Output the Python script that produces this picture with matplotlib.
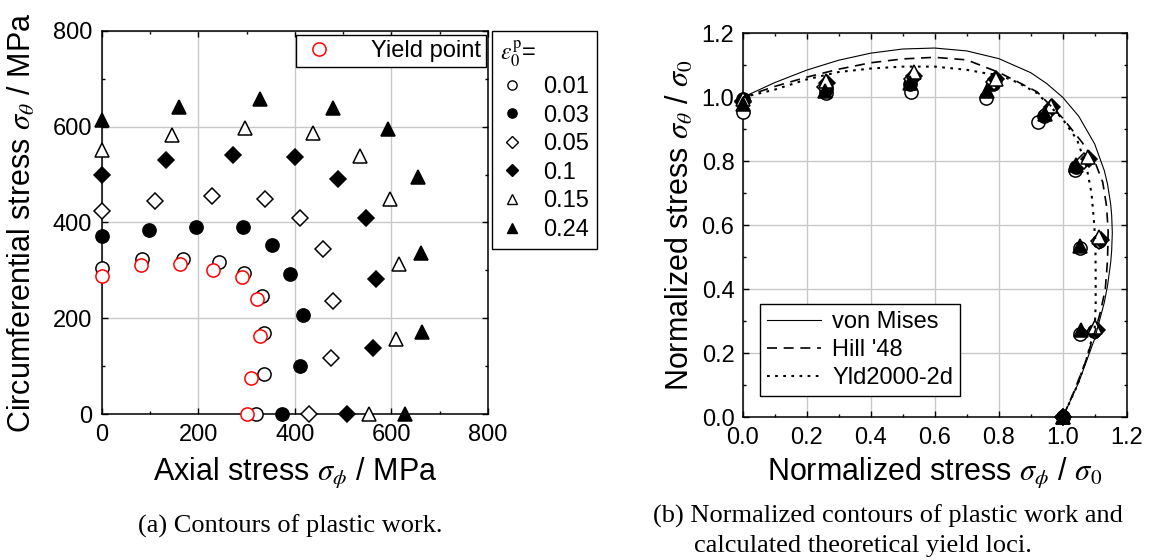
import matplotlib
matplotlib.use("Agg")
import matplotlib.pyplot as plt
from matplotlib.lines import Line2D
import numpy as np

plt.rcParams['font.family'] = ['Liberation Sans', 'DejaVu Sans']
plt.rcParams['mathtext.fontset'] = 'stix'

# ---------------- data (left: contours of plastic work, MPa) ----------------
levels = ['0.01', '0.03', '0.05', '0.1', '0.15', '0.24']

s001_x = [0, 83, 168, 243, 294, 331, 336, 336, 319]
s001_y = [304, 323, 324, 318, 294, 247, 169, 83, 0]
s003_x = [0, 97, 195, 292, 352, 390, 416, 410, 374]
s003_y = [372, 384, 390, 390, 352, 293, 206, 101, 0]
s005_x = [0, 110, 228, 338, 410, 459, 479, 474, 430]
s005_y = [425, 444, 455, 450, 410, 345, 237, 116, 0]
s010_x = [0, 133, 271, 401, 490, 548, 567, 561, 507]
s010_y = [500, 530, 541, 536, 491, 410, 281, 138, 0]
s015_x = [0, 145, 297, 438, 534, 598, 616, 610, 554]
s015_y = [551, 582, 598, 586, 539, 450, 313, 156, 0]
s024_x = [0, 161, 328, 479, 593, 655, 661, 664, 628]
s024_y = [614, 641, 657, 640, 596, 496, 336, 171, 0]

yield_x = [0, 81, 162, 230, 290, 321, 327, 309, 300]
yield_y = [288, 311, 313, 300, 287, 240, 163, 76, 0]

# ---------------- theoretical yield loci (normalized) ----------------
vm_x = [0, 0.1, 0.2, 0.3, 0.4, 0.5, 0.6, 0.7, 0.8, 0.9, 0.95, 1.0, 1.05, 1.1, 1.13,
        1.14, 1.15, 1.153, 1.155, 1.153, 1.15, 1.14, 1.13, 1.1, 1.05, 1.0]
vm_y = [1.0, 1.046, 1.085, 1.116, 1.138, 1.151, 1.154, 1.145, 1.121, 1.077, 1.043, 1.0,
        0.941, 0.854, 0.771, 0.729, 0.665, 0.631, 0.577, 0.522, 0.485, 0.411, 0.359,
        0.246, 0.109, 0.0]

hill_x = [0, 0.1, 0.2, 0.3, 0.4, 0.5, 0.6, 0.7, 0.8, 0.86, 0.92, 1.0, 1.06, 1.10,
          1.125, 1.137, 1.142, 1.14, 1.133, 1.118, 1.10, 1.07, 1.035, 1.0]
hill_y = [1.0, 1.034, 1.063, 1.088, 1.108, 1.12, 1.125, 1.117, 1.078, 1.048, 1.017,
          0.935, 0.86, 0.8, 0.735, 0.66, 0.58, 0.49, 0.40, 0.33, 0.265, 0.17, 0.08, 0.0]

yld_x = [0, 0.1, 0.2, 0.3, 0.4, 0.5, 0.6, 0.7, 0.76, 0.8, 0.86, 0.92, 1.0, 1.045,
         1.075, 1.09, 1.097, 1.102, 1.103, 1.103, 1.10, 1.077, 1.044, 1.0]
yld_y = [1.0, 1.024, 1.056, 1.079, 1.09, 1.096, 1.096, 1.086, 1.075, 1.07, 1.046,
         1.013, 0.932, 0.867, 0.78, 0.70, 0.62, 0.55, 0.45, 0.35, 0.28, 0.19, 0.096, 0.0]

series = [(s001_x, s001_y), (s003_x, s003_y), (s005_x, s005_y),
          (s010_x, s010_y), (s015_x, s015_y), (s024_x, s024_y)]
styles = [('o', 'white'), ('o', 'black'), ('D', 'white'),
          ('D', 'black'), ('^', 'white'), ('^', 'black')]
msizes = [9.5, 9.5, 8.3, 8.3, 10, 10]

fig = plt.figure(figsize=(11.51, 5.6), dpi=100)
ax1 = fig.add_axes([0.0884, 0.2607, 0.3356, 0.684])
ax2 = fig.add_axes([0.6453, 0.2548, 0.3336, 0.6857])

TICK_FS = 17
LABEL_FS = 22
LEG_FS = 17


def style_axes(ax):
    for sp in ax.spines.values():
        sp.set_linewidth(1.1)
    ax.tick_params(which='both', direction='in', top=True, right=True,
                   labelsize=TICK_FS, width=1.0)
    ax.tick_params(which='major', length=4.5)
    ax.tick_params(which='minor', length=2.5)
    ax.grid(True, which='major', color='#c8c8c8', lw=1.0, zorder=0)
    ax.set_axisbelow(True)


# ---------------- left panel ----------------
for (xs, ys), (m, fc), ms in zip(series, styles, msizes):
    ax1.plot(xs, ys, ls='none', marker=m, mfc=fc, mec='black', ms=ms, mew=1.1,
             clip_on=False, zorder=3)
ax1.plot(yield_x, yield_y, ls='none', marker='o', mfc='white', mec='red', ms=9.5,
         mew=1.1, clip_on=False, zorder=4)

ax1.set_xlim(0, 800)
ax1.set_ylim(0, 800)
ax1.set_xticks(np.arange(0, 801, 200))
ax1.set_yticks(np.arange(0, 801, 200))
ax1.set_xticks(np.arange(100, 800, 200), minor=True)
ax1.set_yticks(np.arange(100, 800, 200), minor=True)
style_axes(ax1)
ax1.tick_params(axis='x', pad=7)
ax1.tick_params(axis='y', pad=7)
ax1.set_xlabel(r'Axial stress $\sigma_\phi$ / MPa', fontsize=LABEL_FS)
ax1.set_ylabel(r'Circumferential stress $\sigma_\theta$ / MPa', fontsize=LABEL_FS)
ax1.xaxis.set_label_coords(0.5, -0.11)
ax1.yaxis.set_label_coords(-0.165, 0.5)

h_yield = Line2D([], [], ls='none', marker='o', mfc='white', mec='red', ms=9.5, mew=1.1)
leg1 = ax1.legend([h_yield], ['Yield point'], loc='upper right',
                  bbox_to_anchor=(0.995, 0.989), borderaxespad=0, fancybox=False,
                  edgecolor='black', framealpha=1, fontsize=LEG_FS, handlelength=1.6,
                  handletextpad=1.4, borderpad=0.2)
leg1.get_frame().set_linewidth(1.0)

lev_handles = [Line2D([], [], ls='none', marker=m, mfc=fc, mec='black',
                      ms=ms * 0.7, mew=1.0)
               for (m, fc), ms in zip(styles, msizes)]
leg2 = fig.legend(lev_handles, levels, loc='upper left',
                  bbox_to_anchor=(492 / 1151, 1 - 31 / 560), borderaxespad=0,
                  title=r'$\varepsilon_0^{\mathrm{p}}$=', alignment='left',
                  fancybox=False, edgecolor='black', framealpha=1, fontsize=LEG_FS,
                  title_fontsize=LEG_FS, handlelength=1.0, handletextpad=0.8,
                  labelspacing=0.28, borderpad=0.35)
leg2.get_frame().set_linewidth(1.0)

# ---------------- right panel ----------------
for (xs, ys), (m, fc), ms in zip(series, styles, msizes):
    s0 = xs[-1]
    nx = np.array(xs) / s0
    ny = np.array(ys) / s0
    ax2.plot(nx, ny, ls='none', marker=m, mfc=fc, mec='black', ms=ms, mew=1.1,
             clip_on=False, zorder=3)

ax2.plot(vm_x, vm_y, color='black', lw=0.8, label='von Mises', zorder=4)
ax2.plot(hill_x, hill_y, color='black', lw=1.2, ls=(0, (6, 4)), label="Hill '48",
         zorder=4)
ax2.plot(yld_x, yld_y, color='black', lw=1.5, ls=(0, (1.3, 2.6)),
         label='Yld2000-2d', zorder=4)

ax2.set_xlim(0, 1.2)
ax2.set_ylim(0, 1.2)
ax2.set_xticks(np.arange(0, 1.21, 0.2))
ax2.set_yticks(np.arange(0, 1.21, 0.2))
ax2.set_xticks(np.arange(0.1, 1.2, 0.2), minor=True)
ax2.set_yticks(np.arange(0.1, 1.2, 0.2), minor=True)
ax2.xaxis.set_major_formatter(matplotlib.ticker.FormatStrFormatter('%.1f'))
ax2.yaxis.set_major_formatter(matplotlib.ticker.FormatStrFormatter('%.1f'))
style_axes(ax2)
ax2.tick_params(axis='x', pad=7)
ax2.tick_params(axis='y', pad=6)
ax2.set_xlabel(r'Normalized stress $\sigma_\phi$ / $\sigma_0$', fontsize=LABEL_FS)
ax2.set_ylabel(r'Normalized stress $\sigma_\theta$ / $\sigma_0$', fontsize=LABEL_FS)
ax2.xaxis.set_label_coords(0.5, -0.10)
ax2.yaxis.set_label_coords(-0.122, 0.5)

leg3 = ax2.legend(loc='lower left', bbox_to_anchor=(0.045, 0.0555), borderaxespad=0,
                  fancybox=False, edgecolor='black', framealpha=1, fontsize=LEG_FS,
                  handlelength=2.3, handletextpad=0.45, labelspacing=0.25,
                  borderpad=0.3)
leg3.get_frame().set_linewidth(1.0)

# ---------------- captions ----------------
serif = ['Liberation Serif', 'DejaVu Serif']
fig.text(290 / 1151, 1 - 526 / 560, '(a) Contours of plastic work.', family=serif,
         fontsize=19, ha='center', va='center')
fig.text(653 / 1151, 1 - 516 / 560, '(b) Normalized contours of plastic work and',
         family=serif, fontsize=19, ha='left', va='center')
fig.text(694 / 1151, 1 - 546 / 560, 'calculated theoretical yield loci.',
         family=serif, fontsize=19, ha='left', va='center')

fig.savefig('out.png', dpi=100)
